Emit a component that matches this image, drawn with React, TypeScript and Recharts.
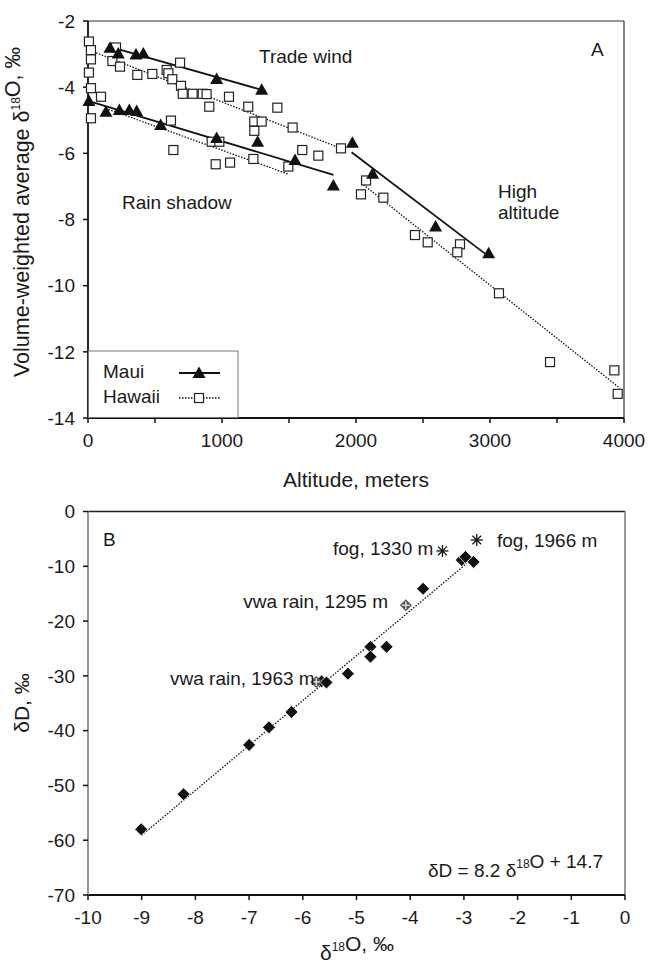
import React from "react";
import { ScatterChart, Scatter, XAxis, YAxis, ReferenceLine } from "recharts";

// Panel A: altitude (m) vs volume-weighted d18O
const mauiAltitude = [164, 226, 358, 413, 960, 1296, 7, 134, 234, 308, 363, 542, 960, 1266, 1545, 1831, 1973, 2124, 2594, 2990];
const mauiD18O = [-2.81, -2.98, -3.01, -2.98, -3.75, -4.08, -4.42, -4.74, -4.69, -4.69, -4.72, -5.14, -5.54, -5.65, -6.2, -6.97, -5.68, -6.62, -8.21, -9.02];

const hawaiiAltitude = [7, 22, 22, 7, 22, 22, 97, 209, 182, 239, 368, 480, 587, 600, 629, 687, 694, 707, 781, 856, 885, 905, 1052, 1196, 1241, 1241, 1296, 1413, 1527, 619, 637, 923, 980, 953, 1060, 1234, 1495, 1599, 1719, 1888, 2037, 2075, 2204, 2440, 2535, 2776, 2756, 3067, 3448, 3928, 3953];
const hawaiiD18O = [-2.62, -2.88, -3.16, -3.56, -4.03, -4.94, -4.29, -2.8, -3.21, -3.38, -3.63, -3.6, -3.48, -3.58, -3.76, -3.26, -3.96, -4.2, -4.2, -4.2, -4.21, -4.59, -4.29, -4.59, -5.04, -5.32, -5.04, -4.62, -5.22, -5.01, -5.9, -5.65, -5.65, -6.33, -6.28, -6.17, -6.4, -5.9, -6.07, -5.85, -7.24, -6.82, -7.34, -8.47, -8.69, -8.75, -8.99, -10.23, -12.31, -12.56, -13.27];

// fitted segments [x1, y1, x2, y2]
const mauiFits = [
  [164, -2.78, 1296, -4.08],
  [7, -4.42, 1831, -6.65],
  [1967, -5.97, 2975, -9.07],
];
const hawaiiFits = [
  [40, -2.93, 1888, -5.85],
  [152, -4.67, 1490, -6.62],
  [2055, -6.95, 3970, -13.1],
];

const altTicks = [0, 500, 1000, 1500, 2000, 2500, 3000, 3500, 4000];
const vwaTicks = [-14, -12, -10, -8, -6, -4, -2];

// Panel B: d18O vs dD
const rainD18O = [-9.01, -8.22, -7.0, -6.63, -6.21, -5.65, -5.56, -5.16, -4.74, -4.74, -4.44, -3.76, -3.04, -2.97, -2.82];
const rainDD = [-58.0, -51.6, -42.6, -39.4, -36.6, -31.0, -31.2, -29.6, -24.7, -26.5, -24.7, -14.1, -8.85, -8.3, -9.2];
const vwaD18O = [-5.75, -4.08];
const vwaDD = [-31.1, -17.1];
const fogD18O = [-3.4, -2.76];
const fogDD = [-7.2, -5.2];
const mwlLine = [-9, -59.1, -2.95, -9.5];

const o18Ticks = [-10, -9, -8, -7, -6, -5, -4, -3, -2, -1, 0];
const ddTicks = [-70, -60, -50, -40, -30, -20, -10, 0];

const zip = (xs: number[], ys: number[]) => xs.map((x, i) => ({ x, y: ys[i] }));

const font = "'Liberation Sans', Arial, sans-serif";
const tickStyle = { fill: "#1a1a1a", fontSize: 19, fontFamily: font };

const Triangle = (p: any) => (
  <polygon
    points={`${p.cx},${p.cy - 6.5} ${p.cx + 6.5},${p.cy + 5} ${p.cx - 6.5},${p.cy + 5}`}
    fill="#111"
  />
);
const OpenSquare = (p: any) => (
  <rect x={p.cx - 4.5} y={p.cy - 4.5} width={9} height={9} fill="#fff" stroke="#222" strokeWidth={1.2} />
);
const Diamond = (p: any) => (
  <polygon
    points={`${p.cx},${p.cy - 6.5} ${p.cx + 6.5},${p.cy} ${p.cx},${p.cy + 6.5} ${p.cx - 6.5},${p.cy}`}
    fill="#111"
    stroke="#fff"
    strokeWidth={0.8}
  />
);
const HatchDiamond = (p: any) => (
  <g>
    <polygon
      points={`${p.cx},${p.cy - 6} ${p.cx + 6},${p.cy} ${p.cx},${p.cy + 6} ${p.cx - 6},${p.cy}`}
      fill="#555"
    />
    <line x1={p.cx - 4} y1={p.cy} x2={p.cx + 4} y2={p.cy} stroke="#fff" strokeWidth={1.1} />
    <line x1={p.cx} y1={p.cy - 4} x2={p.cx} y2={p.cy + 4} stroke="#fff" strokeWidth={1.1} />
  </g>
);
const Asterisk = (p: any) => (
  <g stroke="#111" strokeWidth={1.3}>
    <line x1={p.cx - 6} y1={p.cy} x2={p.cx + 6} y2={p.cy} />
    <line x1={p.cx} y1={p.cy - 6} x2={p.cx} y2={p.cy + 6} />
    <line x1={p.cx - 4.3} y1={p.cy - 4.3} x2={p.cx + 4.3} y2={p.cy + 4.3} />
    <line x1={p.cx - 4.3} y1={p.cy + 4.3} x2={p.cx + 4.3} y2={p.cy - 4.3} />
  </g>
);

const seg = (s: number[], key: string, dotted: boolean) => (
  <ReferenceLine
    key={key}
    segment={[{ x: s[0], y: s[1] }, { x: s[2], y: s[3] }]}
    stroke="#111"
    strokeWidth={dotted ? 1.3 : 1.8}
    strokeDasharray={dotted ? "1.5 1.5" : undefined}
  />
);

function Sup({ children }: { children: string }) {
  return (
    <>
      <tspan dy={-9} fontSize={12}>{children}</tspan>
      <tspan dy={9}></tspan>
    </>
  );
}

export default function App() {
  return (
    <div style={{ position: "absolute", left: 0, top: 0, width: 652, height: 969, background: "#fff" }}>
      <div style={{ position: "absolute", left: 0, top: 0 }}>
        <ScatterChart width={652} height={490} margin={{ top: 21, right: 28, bottom: 0, left: 0 }}>
          <XAxis
            type="number"
            dataKey="x"
            domain={[0, 4000]}
            ticks={altTicks}
            interval={0}
            tickFormatter={(v: number) => (v % 1000 === 0 ? String(v) : "")}
            height={72}
            tickSize={5}
            tickMargin={11}
            tick={tickStyle}
            axisLine={{ stroke: "#111", strokeWidth: 1.8 }}
            tickLine={{ stroke: "#111", strokeWidth: 1.5 }}
          />
          <YAxis
            type="number"
            dataKey="y"
            domain={[-14, -2]}
            ticks={vwaTicks}
            interval={0}
            width={88}
            tickSize={5}
            tickMargin={8}
            tick={tickStyle}
            axisLine={{ stroke: "#111", strokeWidth: 1.8 }}
            tickLine={{ stroke: "#111", strokeWidth: 1.5 }}
          />
          <ReferenceLine y={-2} stroke="#333" strokeWidth={1.2} />
          <ReferenceLine x={4000} stroke="#333" strokeWidth={1.2} />
          {hawaiiFits.map((s, i) => seg(s, "h" + i, true))}
          {mauiFits.map((s, i) => seg(s, "m" + i, false))}
          <Scatter data={zip(hawaiiAltitude, hawaiiD18O)} shape={OpenSquare} isAnimationActive={false} />
          <Scatter data={zip(mauiAltitude, mauiD18O)} shape={Triangle} isAnimationActive={false} />
        </ScatterChart>
      </div>
      <div style={{ position: "absolute", left: 0, top: 490 }}>
        <ScatterChart width={652} height={479} margin={{ top: 21.5, right: 27, bottom: 0, left: 0 }}>
          <XAxis
            type="number"
            dataKey="x"
            domain={[-10, 0]}
            ticks={o18Ticks}
            interval={0}
            height={74}
            tickSize={5}
            tickMargin={11}
            tick={tickStyle}
            axisLine={{ stroke: "#111", strokeWidth: 1.8 }}
            tickLine={{ stroke: "#111", strokeWidth: 1.5 }}
          />
          <YAxis
            type="number"
            dataKey="y"
            domain={[-70, 0]}
            ticks={ddTicks}
            interval={0}
            width={88}
            tickSize={5}
            tickMargin={8}
            tick={tickStyle}
            axisLine={{ stroke: "#888", strokeWidth: 1.8 }}
            tickLine={{ stroke: "#111", strokeWidth: 1.5 }}
          />
          <ReferenceLine y={0} stroke="#222" strokeWidth={1.4} />
          <ReferenceLine x={0} stroke="#555" strokeWidth={1.2} />
          {seg(mwlLine, "mwl", true)}
          <Scatter data={zip(rainD18O, rainDD)} shape={Diamond} isAnimationActive={false} />
          <Scatter data={zip(vwaD18O, vwaDD)} shape={HatchDiamond} isAnimationActive={false} />
          <Scatter data={zip(fogD18O, fogDD)} shape={Asterisk} isAnimationActive={false} />
        </ScatterChart>
      </div>
      <svg
        width={652}
        height={969}
        style={{ position: "absolute", left: 0, top: 0, pointerEvents: "none" }}
        fontFamily={font}
        fill="#1a1a1a"
      >
        {/* panel A annotations */}
        <text x={591} y={56} fontSize={19}>A</text>
        <text x={259} y={63} fontSize={19}>Trade wind</text>
        <text x={122} y={209} fontSize={19}>Rain shadow</text>
        <text x={498} y={198} fontSize={19}>High</text>
        <text x={498} y={219} fontSize={19}>altitude</text>
        <text x={356} y={487} fontSize={21} textAnchor="middle">Altitude, meters</text>
        <text x={0} y={0} fontSize={21.5} textAnchor="middle" transform="translate(29,212) rotate(-90)">
          Volume-weighted average δ<Sup>18</Sup>O, ‰
        </text>
        {/* legend */}
        <rect x={88.5} y={351} width={149.5} height={66.5} fill="#fff" stroke="#777" strokeWidth={1} />
        <text x={103} y={378} fontSize={19}>Maui</text>
        <text x={103} y={403} fontSize={19}>Hawaii</text>
        <line x1={179} y1={373} x2={220} y2={373} stroke="#111" strokeWidth={2} />
        <polygon points="199,366.5 205.5,378 192.5,378" fill="#111" />
        <line x1={179} y1={398} x2={220} y2={398} stroke="#111" strokeWidth={1.3} strokeDasharray="1.5 1.5" />
        <rect x={194.5} y={393.5} width={9} height={9} fill="#fff" stroke="#222" strokeWidth={1.2} />
        {/* panel B annotations */}
        <text x={103} y={546} fontSize={19}>B</text>
        <text x={333} y={555} fontSize={19}>fog, 1330 m</text>
        <text x={497} y={547} fontSize={19}>fog, 1966 m</text>
        <text x={388} y={608} fontSize={19} textAnchor="end">vwa rain, 1295 m</text>
        <text x={170} y={685} fontSize={19}>vwa rain, 1963 m</text>
        <text x={603} y={877} fontSize={19} textAnchor="end">
          δD = 8.2 δ<Sup>18</Sup>O + 14.7
        </text>
        <text x={357} y={960} fontSize={21} textAnchor="middle">
          δ<Sup>18</Sup>O, ‰
        </text>
        <text x={0} y={0} fontSize={21} textAnchor="middle" transform="translate(29,703) rotate(-90)">
          δD, ‰
        </text>
      </svg>
    </div>
  );
}
